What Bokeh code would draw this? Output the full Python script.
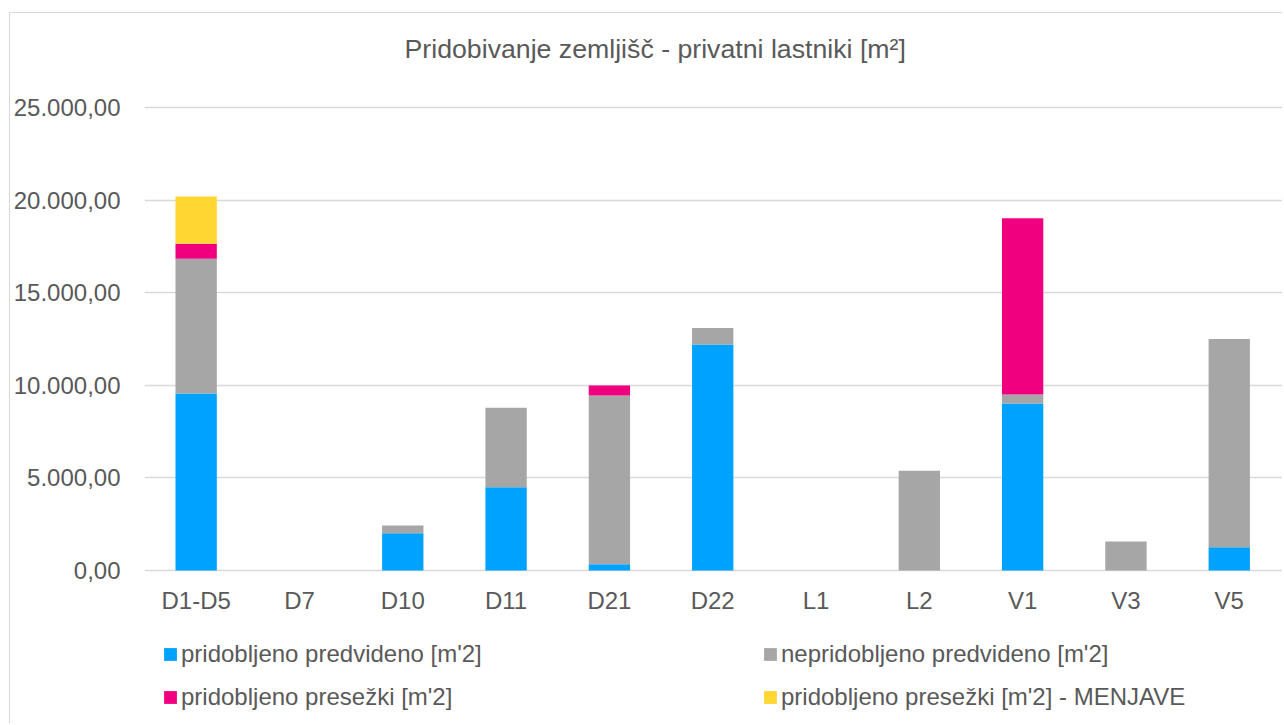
from bokeh.plotting import figure
from bokeh.models import ColumnDataSource, Range1d, Legend, LegendItem, Label, FixedTicker
from bokeh.embed import file_html
from bokeh.resources import INLINE

categories = ["D1-D5", "D7", "D10", "D11", "D21", "D22", "L1", "L2", "V1", "V3", "V5"]
pridobljeno_predvideno = [9560, 0, 2010, 4490, 340, 12200, 0, 0, 9020, 0, 1260]
nepridobljeno_predvideno = [7270, 0, 420, 4300, 9110, 890, 0, 5380, 490, 1570, 11240]
pridobljeno_presezki = [820, 0, 0, 0, 540, 0, 0, 0, 9510, 0, 0]
pridobljeno_presezki_menjave = [2550, 0, 0, 0, 0, 0, 0, 0, 0, 0, 0]

series_names = ["pridobljeno predvideno [m'2]", "nepridobljeno predvideno [m'2]",
                "pridobljeno presežki [m'2]", "pridobljeno presežki [m'2] - MENJAVE"]
colors = ["#00A2FF", "#A6A6A6", "#F0007F", "#FFD632"]
y_ticks = [0, 5000, 10000, 15000, 20000, 25000]
title_text = "Pridobivanje zemljišč - privatni lastniki [m²]"

TXT = "#595959"
FONT = "Liberation Sans"

def fmt(v):
    s = f"{v:,.2f}"
    return s.replace(",", "X").replace(".", ",").replace("X", ".")

n = len(categories)
src = ColumnDataSource(dict(
    x=list(range(n)),
    s0=pridobljeno_predvideno,
    s1=nepridobljeno_predvideno,
    s2=pridobljeno_presezki,
    s3=pridobljeno_presezki_menjave,
    cat=categories,
    base=[0] * n,
))

# frame spans the whole area right of the value axis; the value range is padded
# so that 0 and 25.000 sit where the reference draws them
p = figure(width=1273, height=711, output_backend="svg", toolbar_location=None,
           x_range=Range1d(-0.5, 10.525), y_range=Range1d(-8315, 30076),
           x_axis_location=None,
           min_border_left=126, min_border_right=0, min_border_top=0, min_border_bottom=0,
           margin=(12, 0, 0, 9),
           styles={"border-left": "1px solid #d9d9d9", "border-top": "1px solid #d9d9d9"})
p.outline_line_color = None
p.background_fill_color = "white"
p.border_fill_color = "white"

rs = p.vbar_stack(["s0", "s1", "s2", "s3"], x="x", width=0.4, color=colors,
                  line_color=None, source=src)

# category labels under the bars
p.text(x="x", y="base", text="cat", source=src, y_offset=30,
       text_align="center", text_baseline="alphabetic",
       text_font={"value": FONT}, text_font_size="24px", text_color=TXT)

# value axis
p.yaxis.ticker = FixedTicker(ticks=y_ticks)
p.yaxis.major_label_overrides = {t: fmt(t) for t in y_ticks}
ax = p.yaxis[0]
ax.axis_line_color = None
ax.major_tick_line_color = None
ax.minor_tick_line_color = None
ax.major_tick_out = 0
ax.major_tick_in = 0
ax.minor_tick_out = 0
ax.major_label_text_font = FONT
ax.major_label_text_font_size = "24px"
ax.major_label_text_color = TXT
ax.major_label_standoff = 24

p.xgrid.grid_line_color = None
p.ygrid.ticker = FixedTicker(ticks=y_ticks)
p.ygrid.grid_line_color = "#d9d9d9"
p.ygrid.grid_line_width = 1.5

legend = Legend(items=[LegendItem(label=s, renderers=[r]) for s, r in zip(series_names, rs)],
                location=(18, 12), orientation="horizontal", ncols=2,
                glyph_width=16, glyph_height=16, label_standoff=3,
                spacing=13, label_width=568, label_height=30,
                padding=0, margin=0, border_line_color=None, background_fill_alpha=0,
                label_text_font=FONT, label_text_font_size="24px", label_text_color=TXT)
p.add_layout(legend, "center")

title = Label(x=510.7, y=676, x_units="screen", y_units="screen", text=title_text,
              text_align="center", text_baseline="alphabetic",
              text_font=FONT, text_font_size="26.7px", text_color=TXT)
p.add_layout(title)

open("out.html", "w").write(file_html(p, INLINE))
